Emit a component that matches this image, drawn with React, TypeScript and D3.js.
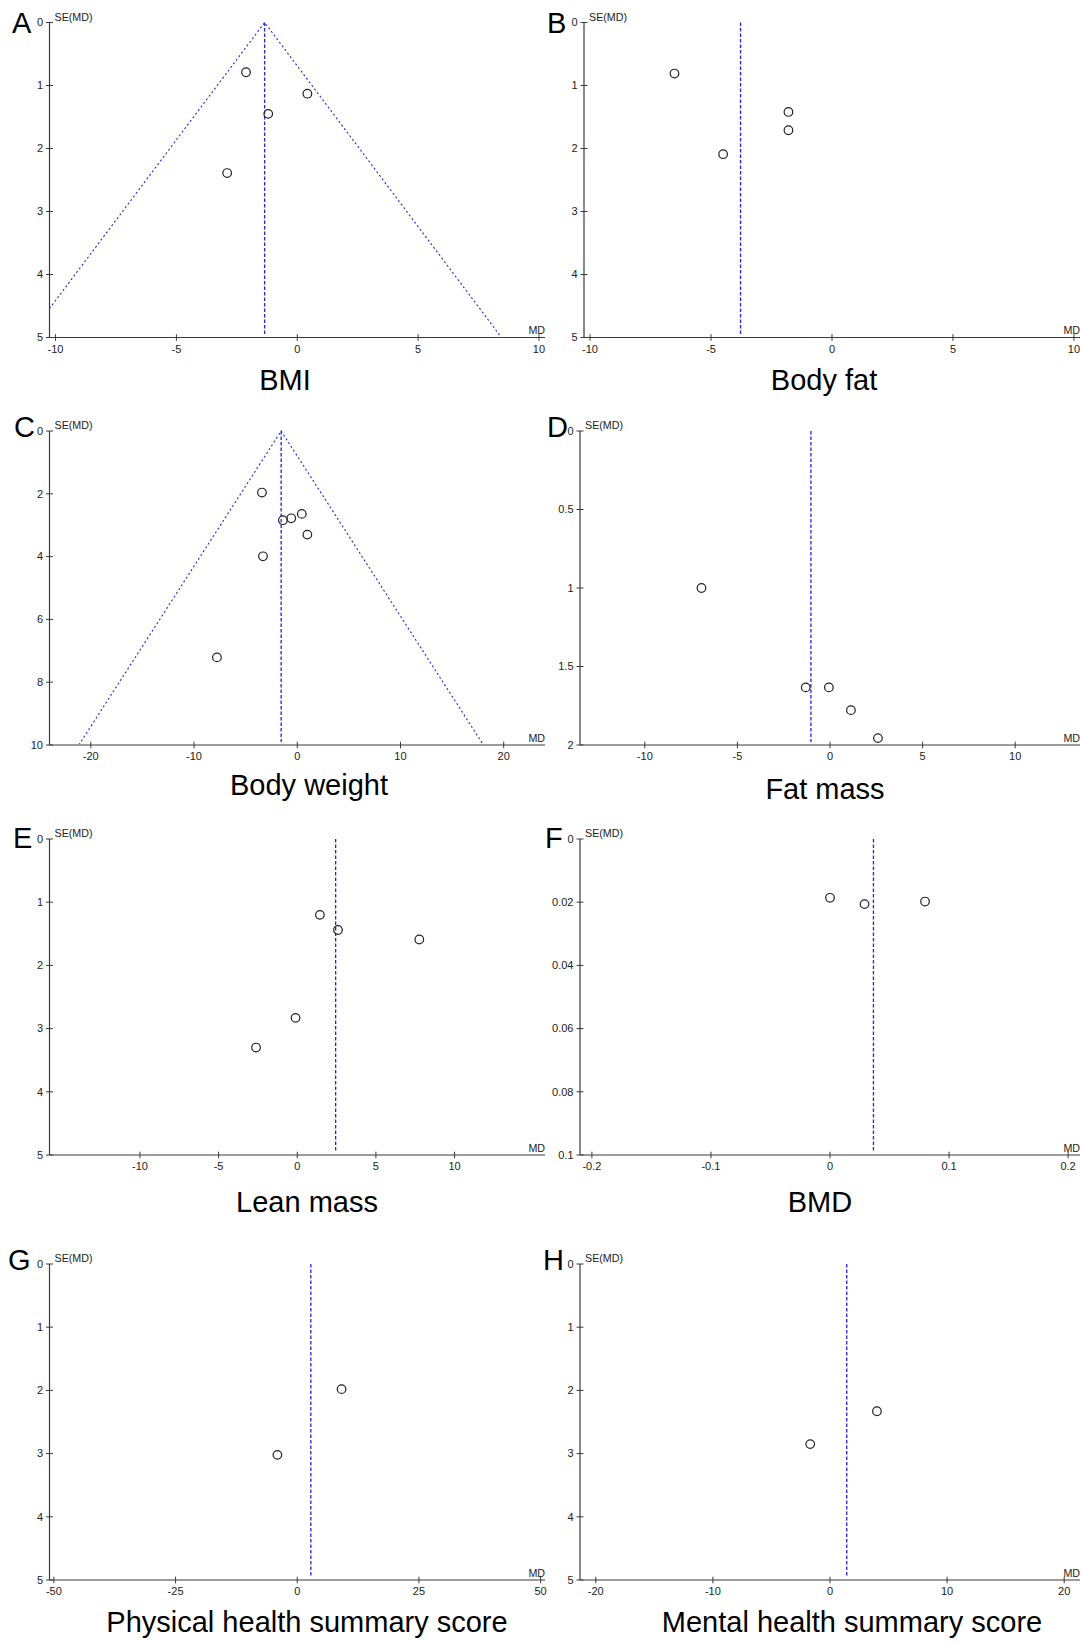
import React, { useEffect, useRef } from 'react';
import * as d3 from 'd3';

// Panel labels and titles
const panelLetters = ["A", "B", "C", "D", "E", "F", "G", "H"];
const panelTitles = [
  "BMI",
  "Body fat",
  "Body weight",
  "Fat mass",
  "Lean mass",
  "BMD",
  "Physical health summary score",
  "Mental health summary score",
];

// Axis ticks
const xTickValues = [
  [-10, -5, 0, 5, 10],
  [-10, -5, 0, 5, 10],
  [-20, -10, 0, 10, 20],
  [-10, -5, 0, 5, 10],
  [-10, -5, 0, 5, 10],
  [-0.2, -0.1, 0, 0.1, 0.2],
  [-50, -25, 0, 25, 50],
  [-20, -10, 0, 10, 20],
];
const yTickValues = [
  [0, 1, 2, 3, 4, 5],
  [0, 1, 2, 3, 4, 5],
  [0, 2, 4, 6, 8, 10],
  [0, 0.5, 1, 1.5, 2],
  [0, 1, 2, 3, 4, 5],
  [0, 0.02, 0.04, 0.06, 0.08, 0.1],
  [0, 1, 2, 3, 4, 5],
  [0, 1, 2, 3, 4, 5],
];
const xDomains = [
  [-10.25, 10.25],
  [-10.25, 10.25],
  [-24, 24],
  [-13.5, 13.5],
  [-15.75, 15.75],
  [-0.21, 0.21],
  [-50.9, 50.9],
  [-21.35, 21.35],
];
const seMax = [5, 5, 10, 2, 5, 0.1, 5, 5];

// Pooled estimate (vertical dashed line) and whether a funnel is drawn
const pooledMD = [-1.35, -3.78, -1.56, -1.03, 2.44, 0.0365, 2.79, 1.43];
const showFunnel = [true, false, true, false, false, false, false, false];

// Study points: mean difference and its standard error
const bmiMD = [-2.12, 0.42, -1.2, -2.9];
const bmiSE = [0.79, 1.13, 1.45, 2.39];
const bodyFatMD = [-6.51, -1.8, -1.8, -4.5];
const bodyFatSE = [0.81, 1.42, 1.71, 2.09];
const bodyWeightMD = [-3.42, -1.39, -0.58, 0.44, 0.98, -3.32, -7.78];
const bodyWeightSE = [1.96, 2.84, 2.78, 2.64, 3.3, 3.99, 7.21];
const fatMassMD = [-6.94, -1.31, -0.06, 1.13, 2.59];
const fatMassSE = [1.0, 1.633, 1.633, 1.778, 1.956];
const leanMassMD = [1.44, 2.59, 7.76, -0.11, -2.62];
const leanMassSE = [1.2, 1.44, 1.59, 2.83, 3.3];
const bmdMD = [0.0, 0.029, 0.0798];
const bmdSE = [0.0186, 0.0206, 0.0198];
const physicalMD = [9.1, -4.08];
const physicalSE = [1.98, 3.02];
const mentalMD = [4.01, -1.69];
const mentalSE = [2.33, 2.85];

const panelMD = [bmiMD, bodyFatMD, bodyWeightMD, fatMassMD, leanMassMD, bmdMD, physicalMD, mentalMD];
const panelSE = [bmiSE, bodyFatSE, bodyWeightSE, fatMassSE, leanMassSE, bmdSE, physicalSE, mentalSE];

// Where each panel sits on the page
const layout = [
  { x0: 49.5, x1: 545, y0: 22.5, y1: 337.5, lx: 12, ly: 33, tx: 285, ty: 390 },
  { x0: 584, x1: 1080, y0: 22.5, y1: 337.5, lx: 547, ly: 33, tx: 824, ty: 390 },
  { x0: 49.5, x1: 545, y0: 431, y1: 745, lx: 14, ly: 437, tx: 309, ty: 795 },
  { x0: 580, x1: 1080, y0: 431, y1: 745, lx: 547, ly: 437, tx: 825, ty: 799 },
  { x0: 49.5, x1: 545, y0: 839, y1: 1155, lx: 13, ly: 848, tx: 307, ty: 1212 },
  { x0: 580, x1: 1080, y0: 839, y1: 1155, lx: 545, ly: 848, tx: 820, ty: 1212 },
  { x0: 49.5, x1: 545, y0: 1264, y1: 1580, lx: 8, ly: 1270, tx: 307, ty: 1632 },
  { x0: 580, x1: 1080, y0: 1264, y1: 1580, lx: 543, ly: 1270, tx: 852, ty: 1632 },
];

const FONT = "Arial, 'Liberation Sans', sans-serif";
const AXIS_COLOR = "#3a3a3a";
const BLUE = "#2323e0";
const RADIUS = 4.3;

function drawPanel(svg: d3.Selection<SVGSVGElement, unknown, null, undefined>, i: number) {
  const L = layout[i];
  const x = d3.scaleLinear().domain(xDomains[i]).range([L.x0, L.x1]);
  const y = d3.scaleLinear().domain([0, seMax[i]]).range([L.y0, L.y1]);
  const g = svg.append("g");

  const clipId = `clip-${i}`;
  g.append("clipPath").attr("id", clipId)
    .append("rect")
    .attr("x", L.x0).attr("y", L.y0 - 2)
    .attr("width", L.x1 - L.x0).attr("height", L.y1 - L.y0 + 1);

  // funnel (pooled +/- 1.96 SE)
  if (showFunnel[i]) {
    const m = seMax[i];
    const p = pooledMD[i];
    const line = d3.line<[number, number]>().x(d => x(d[0])).y(d => y(d[1]));
    g.append("path")
      .attr("clip-path", `url(#${clipId})`)
      .attr("d", line([[p - 1.96 * m, m], [p, 0], [p + 1.96 * m, m]]))
      .attr("fill", "none")
      .attr("stroke", BLUE)
      .attr("stroke-width", 1.1)
      .attr("stroke-dasharray", "2,2.5");
  }

  // pooled estimate line
  g.append("line")
    .attr("x1", x(pooledMD[i])).attr("x2", x(pooledMD[i]))
    .attr("y1", y(0)).attr("y2", y(seMax[i]) - 3)
    .attr("stroke", BLUE)
    .attr("stroke-width", 1.3)
    .attr("stroke-dasharray", "3.5,2");

  // y axis
  g.append("line")
    .attr("x1", L.x0).attr("x2", L.x0).attr("y1", L.y0).attr("y2", L.y1)
    .attr("stroke", AXIS_COLOR).attr("stroke-width", 1.2);
  yTickValues[i].forEach(v => {
    g.append("line")
      .attr("x1", L.x0 - 3.5).attr("x2", L.x0 + 3.5)
      .attr("y1", y(v)).attr("y2", y(v))
      .attr("stroke", AXIS_COLOR).attr("stroke-width", 1);
    g.append("text")
      .attr("x", L.x0 - 6.5).attr("y", y(v)).attr("dy", "0.35em")
      .attr("text-anchor", "end")
      .attr("font-family", FONT).attr("font-size", 11)
      .attr("fill", "#222")
      .text(String(v));
  });

  // x axis
  g.append("line")
    .attr("x1", L.x0).attr("x2", L.x1).attr("y1", L.y1).attr("y2", L.y1)
    .attr("stroke", AXIS_COLOR).attr("stroke-width", 1.2);
  xTickValues[i].forEach(v => {
    g.append("line")
      .attr("x1", x(v)).attr("x2", x(v))
      .attr("y1", L.y1 - 3.3).attr("y2", L.y1 + 3.3)
      .attr("stroke", AXIS_COLOR).attr("stroke-width", 1);
    g.append("text")
      .attr("x", x(v)).attr("y", L.y1 + 15)
      .attr("text-anchor", "middle")
      .attr("font-family", FONT).attr("font-size", 11)
      .attr("fill", "#222")
      .text(String(v));
  });

  // axis names
  g.append("text")
    .attr("x", L.x0 + 5).attr("y", L.y0 - 1.8)
    .attr("font-family", FONT).attr("font-size", 10.7).attr("fill", "#222")
    .text("SE(MD)");
  g.append("text")
    .attr("x", L.x1).attr("y", L.y1 - 3.5)
    .attr("text-anchor", "end")
    .attr("font-family", FONT).attr("font-size", 10.7).attr("fill", "#222")
    .text("MD");

  // study points
  g.selectAll("circle.study")
    .data(panelMD[i].map((md, k) => ({ md, se: panelSE[i][k] })))
    .enter()
    .append("circle")
    .attr("class", "study")
    .attr("cx", d => x(d.md))
    .attr("cy", d => y(d.se))
    .attr("r", RADIUS)
    .attr("fill", "none")
    .attr("stroke", "#222")
    .attr("stroke-width", 1.2);

  // panel letter and title
  g.append("text")
    .attr("x", L.lx).attr("y", L.ly)
    .attr("font-family", FONT).attr("font-size", 29).attr("fill", "#000")
    .text(panelLetters[i]);
  g.append("text")
    .attr("x", L.tx).attr("y", L.ty)
    .attr("text-anchor", "middle")
    .attr("font-family", FONT).attr("font-size", 29).attr("fill", "#000")
    .text(panelTitles[i]);
}

export default function App() {
  const ref = useRef<SVGSVGElement>(null);

  useEffect(() => {
    const svg = d3.select(ref.current as SVGSVGElement);
    svg.selectAll("*").remove();
    panelTitles.forEach((_, i) => drawPanel(svg, i));
  }, []);

  return (
    <svg
      ref={ref}
      width={1081}
      height={1643}
      style={{ position: "absolute", left: 0, top: 0, background: "#fff" }}
    />
  );
}
